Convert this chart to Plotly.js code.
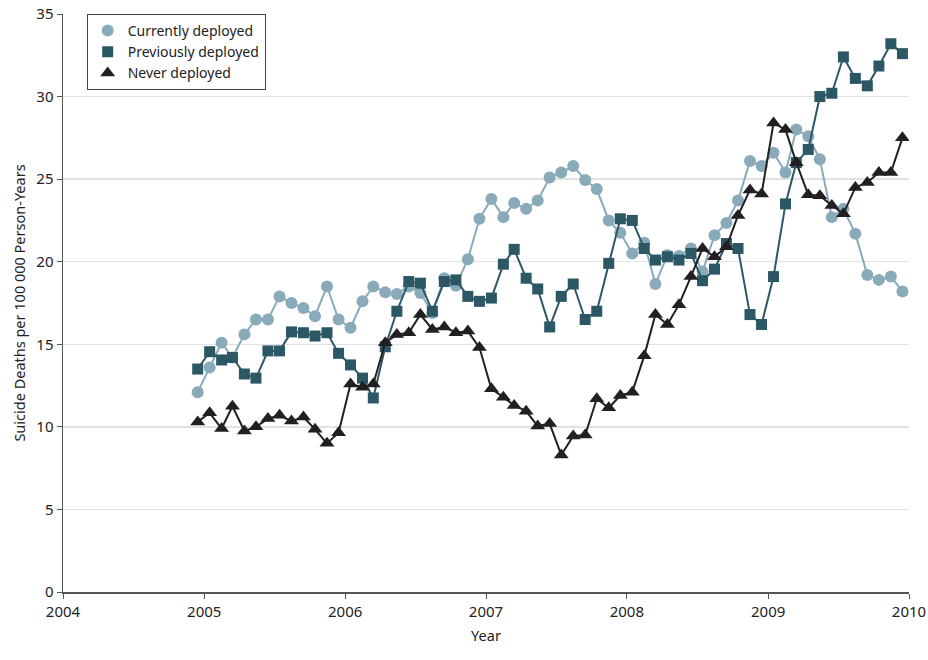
<!DOCTYPE html>
<html>
<head>
<meta charset="utf-8">
<script src="https://cdn.plot.ly/plotly-3.0.1.min.js"></script>
<style>html,body{margin:0;padding:0;background:#fff;}#chart{width:928px;height:660px;}</style>
</head>
<body>
<div id="chart"></div>
<script>
// Monthly points, Dec 2004 through Dec 2009 (mid-month)
var startYear = 2004, startMonth = 12, nMonths = 61;
var months = [];
for (var i = 0; i < nMonths; i++) {
  var m = startMonth - 1 + i;
  var y = startYear + Math.floor(m / 12);
  var mm = (m % 12) + 1;
  months.push(y + '-' + (mm < 10 ? '0' + mm : mm) + '-15');
}

var seriesNames = ['Currently deployed', 'Previously deployed', 'Never deployed'];

var currentlyDeployed = [
  12.1, 13.6, 15.1, 14.2, 15.6, 16.5, 16.5, 17.9, 17.5, 17.2, 16.7, 18.5,
  16.5, 16.0, 17.6, 18.5, 18.15, 18.05, 18.5, 18.1, 16.9, 19.0, 18.55, 20.15,
  22.6, 23.8, 22.7, 23.55, 23.2, 23.7, 25.1, 25.4, 25.8, 24.95, 24.4, 22.5,
  21.75, 20.5, 21.15, 18.65, 20.4, 20.35, 20.8, 19.4, 21.6, 22.35, 23.7, 26.1,
  25.8, 26.6, 25.4, 28.0, 27.6, 26.2, 22.7, 23.2, 21.7, 19.2, 18.9, 19.1,
  18.2
];

var previouslyDeployed = [
  13.5, 14.55, 14.05, 14.2, 13.2, 12.95, 14.6, 14.6, 15.75, 15.7, 15.5, 15.7,
  14.45, 13.75, 12.95, 11.75, 14.85, 17.0, 18.8, 18.7, 17.0, 18.8, 18.9, 17.9,
  17.6, 17.8, 19.85, 20.75, 19.0, 18.35, 16.05, 17.9, 18.65, 16.5, 17.0, 19.9,
  22.6, 22.5, 20.8, 20.1, 20.3, 20.1, 20.5, 18.85, 19.55, 21.1, 20.8, 16.8,
  16.2, 19.1, 23.5, 26.0, 26.8, 30.0, 30.2, 32.4, 31.1, 30.65, 31.85, 33.2,
  32.6
];

var neverDeployed = [
  10.3, 10.85, 9.9, 11.25, 9.75, 10.0, 10.5, 10.7, 10.35, 10.6, 9.85, 9.0,
  9.65, 12.6, 12.4, 12.6, 15.1, 15.6, 15.7, 16.8, 15.9, 16.05, 15.7, 15.8,
  14.8, 12.3, 11.8, 11.3, 10.95, 10.05, 10.2, 8.3, 9.45, 9.5, 11.7, 11.15,
  11.9, 12.1, 14.3, 16.8, 16.2, 17.4, 19.1, 20.8, 20.3, 20.9, 22.8, 24.35,
  24.1, 28.4, 28.0, 26.0, 24.05, 24.0, 23.4, 22.9, 24.5, 24.8, 25.4, 25.4,
  27.5
];

var yTicks = [0, 5, 10, 15, 20, 25, 30, 35];
var xTickLabels = ['2004', '2005', '2006', '2007', '2008', '2009', '2010'];

var colors = ['#89aab9', '#2c5866', '#231f20'];
var symbols = ['circle', 'square', 'triangle-up'];
var sizes = [12, 11, 13];
var allSeries = [currentlyDeployed, previouslyDeployed, neverDeployed];

var FONT = 'Noto Sans, Open Sans, Liberation Sans, sans-serif';

var traces = [];
for (var s = 0; s < 3; s++) {
  traces.push({
    x: months, y: allSeries[s], type: 'scatter', mode: 'lines+markers',
    name: seriesNames[s], showlegend: false, hoverinfo: 'x+y',
    line: {color: colors[s], width: 2},
    marker: {symbol: symbols[s], size: sizes[s], color: colors[s], line: {width: 0}}
  });
}
for (var s2 = 0; s2 < 3; s2++) {
  traces.push({
    x: [null], y: [null], type: 'scatter', mode: 'markers',
    name: seriesNames[s2], showlegend: true,
    marker: {symbol: symbols[s2], size: sizes[s2], color: colors[s2]}
  });
}

var xTickVals = xTickLabels.map(function (t) { return t + '-01-01'; });

var layout = {
  width: 928, height: 660,
  margin: {l: 63, r: 19, t: 14, b: 68},
  paper_bgcolor: '#fff', plot_bgcolor: '#fff',
  font: {family: FONT, size: 14, color: '#222'},
  showlegend: true,
  legend: {
    x: 0.028, y: 1, xanchor: 'left', yanchor: 'top',
    bordercolor: '#444', borderwidth: 1, bgcolor: '#fff',
    font: {family: FONT, size: 14, color: '#222'},
    tracegroupgap: 0, itemwidth: 30
  },
  xaxis: {
    type: 'date',
    range: ['2004-01-01', '2010-01-01'],
    tickmode: 'array', tickvals: xTickVals, ticktext: xTickLabels,
    showgrid: false, zeroline: false,
    showline: true, linecolor: '#555', linewidth: 1.5,
    ticks: 'outside', ticklen: 5, tickcolor: '#555', tickwidth: 1,
    tickfont: {family: FONT, size: 15, color: '#222'},
    title: {text: 'Year', font: {family: FONT, size: 14.5, color: '#222'}, standoff: 11},
    automargin: false
  },
  yaxis: {
    range: [0, 35],
    tickmode: 'array', tickvals: yTicks,
    showgrid: true, gridcolor: '#e2e2e2', gridwidth: 1.5,
    zeroline: false,
    showline: true, linecolor: '#555', linewidth: 1.5,
    ticks: 'outside', ticklen: 5, tickcolor: '#555', tickwidth: 1,
    tickfont: {family: FONT, size: 15, color: '#222'},
    title: {text: 'Suicide Deaths per 100 000 Person-Years', font: {family: FONT, size: 14.5, color: '#222'}, standoff: 7},
    automargin: false
  }
};

Plotly.newPlot('chart', traces, layout, {displayModeBar: false, staticPlot: true});
</script>
</body>
</html>
